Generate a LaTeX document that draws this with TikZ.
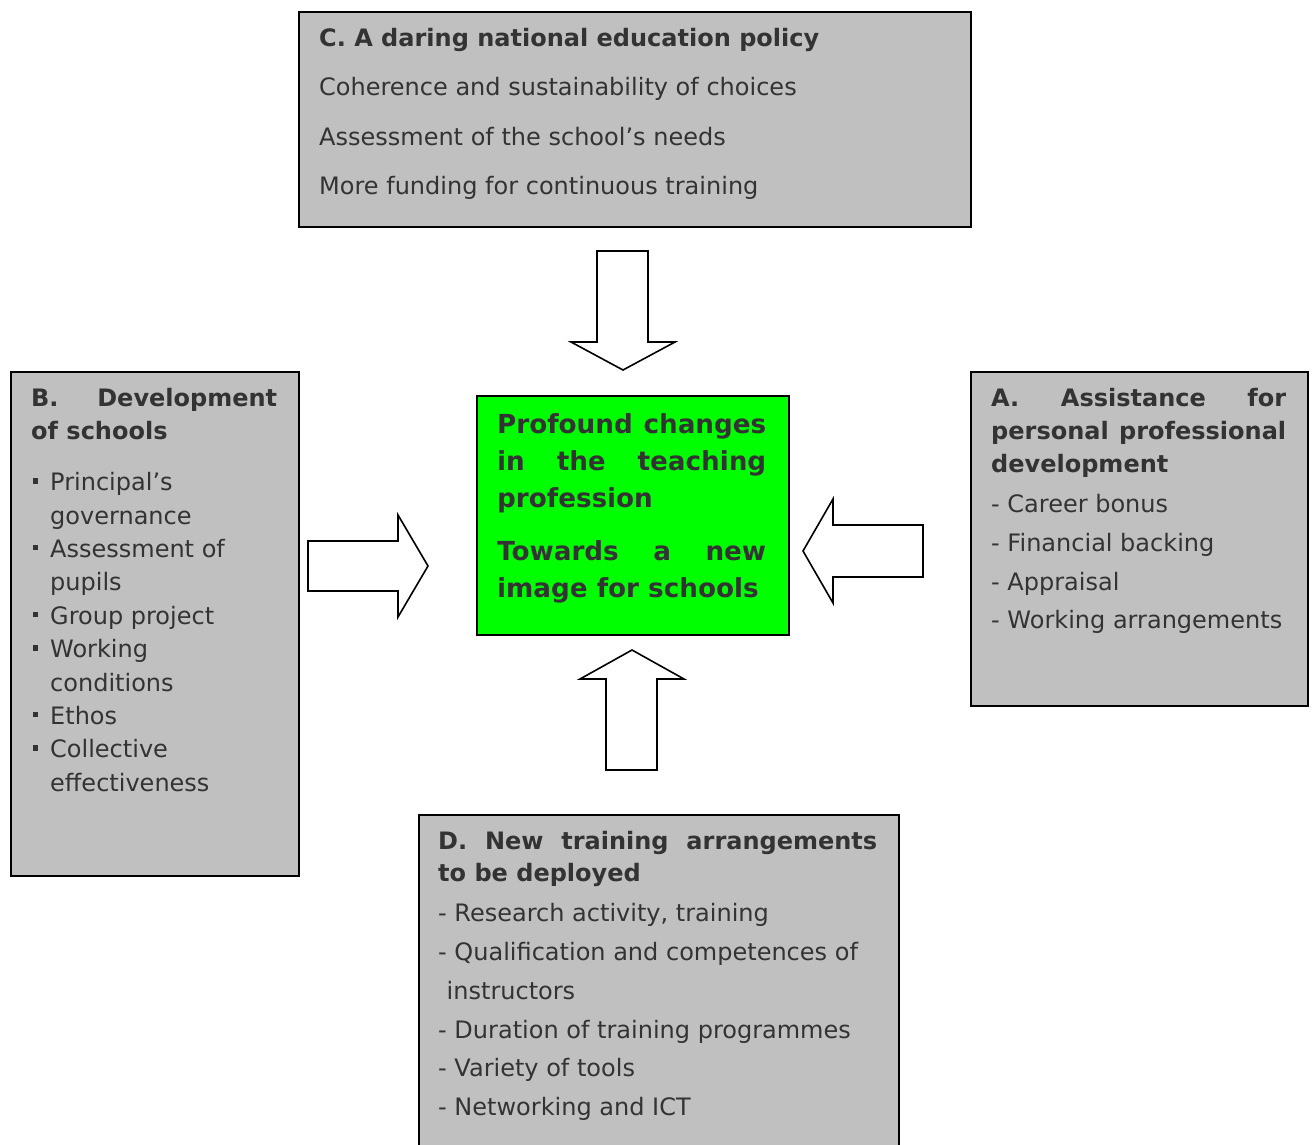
\documentclass[tikz,border=0pt]{standalone}
\usepackage{fontspec}
\setmainfont{DejaVu Sans}
\definecolor{boxgray}{HTML}{C0C0C0}
\definecolor{txtgray}{HTML}{333333}
\definecolor{brightgreen}{HTML}{00FF00}
\newcommand\jl[1]{\hbox to \hsize{#1}}
\newcommand\pl[1]{\hbox{#1}}
\newcommand\bul{\hbox to 19pt{\hskip1.5pt\raise7pt\hbox{\rule{5.5pt}{5.5pt}}\hss}}
\newcommand\bitem[1]{\hbox{\bul #1}}
\newcommand\bcont[1]{\hbox{\hskip19pt #1}}
\tikzset{
  panel/.style={draw=black, line width=1.8pt, fill=boxgray, inner sep=0pt, anchor=north west},
  core/.style={draw=black, line width=1.8pt, fill=brightgreen, inner sep=0pt, anchor=north west},
  blockarrow/.style={draw=black, line width=1.6pt, fill=white, line join=miter},
  txt/.style={inner sep=0pt, anchor=base west, text=txtgray, font=\fontsize{24}{33.4}\selectfont},
  bigtxt/.style={inner sep=0pt, anchor=base west, text=txtgray, font=\fontsize{26.2}{37}\selectfont\bfseries},
}
\begin{document}
\begin{tikzpicture}[x=1pt, y=-1pt]
\useasboundingbox (0,0) rectangle (1314,1144);
\clip (0,0) rectangle (1314,1144);

% boxes
\node[panel, minimum width=672pt, minimum height=215pt] (C) at (298,11) {};
\node[panel, minimum width=288pt, minimum height=504pt] (B) at (10,371) {};
\node[panel, minimum width=337pt, minimum height=334pt] (A) at (970,371) {};
\node[panel, minimum width=480pt, minimum height=356pt] (D) at (418,814) {};
\node[core, minimum width=312pt, minimum height=239pt] (G) at (476,395) {};

% C text
\node[txt] (Ctext) at (319,46.5) {\vtop{\hsize=480pt \baselineskip=49.3pt
  \pl{\bfseries C. A daring national education policy}
  \pl{Coherence and sustainability of choices}
  \pl{Assessment of the school’s needs}
  \pl{More funding for continuous training}}};

% B text
\node[txt] (Btext) at (31,406) {\vtop{\hsize=246pt \baselineskip=33.4pt
  \jl{\bfseries B.\hfill Development}
  \pl{\bfseries of schools}
  \vskip17.8pt
  \bitem{Principal’s}
  \bcont{governance}
  \bitem{Assessment of}
  \bcont{pupils}
  \bitem{Group project}
  \bitem{Working}
  \bcont{conditions}
  \bitem{Ethos}
  \bitem{Collective}
  \bcont{effectiveness}}};

% A text
\node[txt] (Atext) at (991,406) {\vtop{\hsize=295pt \baselineskip=33pt
  \jl{\bfseries A.\hfill Assistance\hfill for}
  \jl{\bfseries personal\hfill professional}
  \pl{\bfseries development}
  \baselineskip=38.7pt\vskip1.9pt
  \pl{- Career bonus}
  \pl{- Financial backing}
  \pl{- Appraisal}
  \pl{- Working arrangements}}};

% D text
\node[txt] (Dtext) at (438,849.5) {\vtop{\hsize=439pt \baselineskip=32.4pt
  \jl{\bfseries D.\hfill New\hfill training\hfill arrangements}
  \pl{\bfseries to be deployed}
  \baselineskip=38.7pt\vskip1.3pt
  \pl{- Research activity, training}
  \pl{- Qualification and competences of}
  \pl{\hskip8.5pt instructors}
  \pl{- Duration of training programmes}
  \pl{- Variety of tools}
  \pl{- Networking and ICT}}};

% centre text
\node[bigtxt] (Gtext) at (497,433) {\vtop{\hsize=269pt \baselineskip=37pt
  \jl{Profound\hfill changes}
  \jl{in\hfill the\hfill teaching}
  \pl{profession}
  \vskip16.3pt
  \jl{Towards\hfill a\hfill new}
  \pl{image for schools}}};

% block arrows
\draw[blockarrow] (597,251) -- (648,251) -- (648,342) -- (675,342) -- (623,370) -- (571,342) -- (597,342) -- cycle;
\draw[blockarrow] (606,770) -- (657,770) -- (657,679) -- (684,679) -- (632,650) -- (580,679) -- (606,679) -- cycle;
\draw[blockarrow] (308,541) -- (398,541) -- (398,515) -- (428,566) -- (398,617) -- (398,591) -- (308,591) -- cycle;
\draw[blockarrow] (923,525) -- (833,525) -- (833,499) -- (803,551) -- (833,603) -- (833,577) -- (923,577) -- cycle;
\end{tikzpicture}
\end{document}
